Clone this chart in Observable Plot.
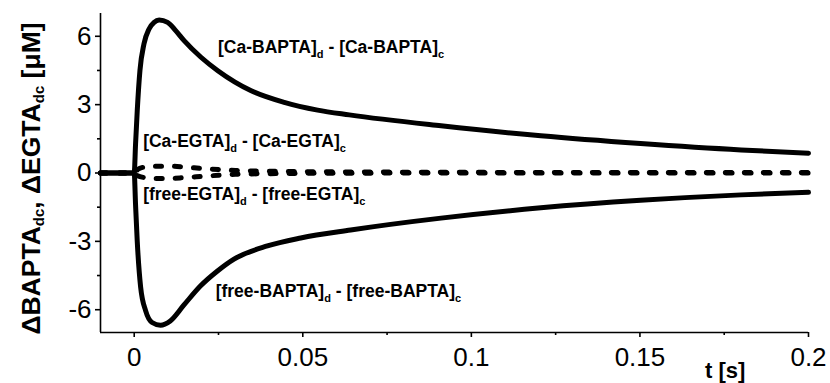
<!DOCTYPE html>
<html><head><meta charset="utf-8">
<script src="https://cdn.jsdelivr.net/npm/d3@7"></script>
<script src="https://cdn.jsdelivr.net/npm/@observablehq/plot@0.6"></script>
<style>body{margin:0;background:#fff} svg text{white-space:pre}</style>
</head><body><div id="chart"></div>
<script>
// ---- data ----
const tCaBAPTA = [-0.01, 0, 0.0004, 0.0009, 0.0017, 0.0029, 0.0044, 0.0059, 0.0074, 0.0099, 0.0123, 0.0148, 0.0198, 0.0248, 0.0347, 0.0445, 0.0544, 0.0638, 0.091, 0.1206, 0.1502, 0.18, 0.2];
const caBAPTA  = [0, 0, 1.28, 2.74, 4.5, 5.67, 6.32, 6.61, 6.71, 6.61, 6.25, 5.81, 5.08, 4.49, 3.61, 3.1, 2.76, 2.55, 2.07, 1.63, 1.29, 1.01, 0.87];

const tFreeBAPTA = [-0.01, 0, 0.0004, 0.0009, 0.0019, 0.0034, 0.0053, 0.0078, 0.0107, 0.0147, 0.0197, 0.0247, 0.0296, 0.0395, 0.0494, 0.0642, 0.091, 0.1206, 0.1502, 0.18, 0.2];
const freeBAPTA  = [0, 0, -1.4, -3.0, -5.0, -6.05, -6.56, -6.68, -6.49, -5.8, -4.95, -4.3, -3.78, -3.2, -2.85, -2.5, -1.98, -1.53, -1.2, -0.96, -0.85];

const tEGTA    = [-0.01, 0, 0.001, 0.003, 0.006, 0.01, 0.015, 0.02, 0.025, 0.03, 0.04, 0.06, 0.1, 0.15, 0.2];
const caEGTA   = [0, 0, 0.15, 0.26, 0.3, 0.3, 0.26, 0.2, 0.15, 0.11, 0.08, 0.05, 0.03, 0.02, 0.02];
const freeEGTA = [0, 0, -0.12, -0.2, -0.24, -0.24, -0.2, -0.15, -0.1, -0.06, -0.03, -0.01, 0, 0, 0];

const xTicks = [0, 0.05, 0.1, 0.15, 0.2];
const xMinorTicks = [0.025, 0.075, 0.125, 0.175];
const yTicks = [-6, -3, 0, 3, 6];
const yMinorTicks = [-4.5, -1.5, 1.5, 4.5];
const xDomain = [-0.01, 0.2];
const yDomain = [-7, 7];

const rows = (t, v, name) => t.map((x, i) => ({t: x, v: v[i], series: name}));

const solid = {x: "t", y: "v", stroke: "black", strokeWidth: 5, curve: "monotone-x", strokeLinejoin: "round"};
const dashed = {...solid, strokeDasharray: "6,13", strokeLinecap: "round"};

const plot = Plot.plot({
  width: 830, height: 383,
  marginLeft: 100, marginRight: 22, marginTop: 13, marginBottom: 51,
  style: {fontFamily: "'Liberation Sans', Arial, sans-serif", background: "white", color: "black", overflow: "visible"},
  x: {domain: xDomain, axis: null},
  y: {domain: yDomain, axis: null},
  marks: [
    Plot.ruleX([xDomain[0]], {strokeWidth: 1.6}),
    Plot.ruleY([yDomain[0]], {strokeWidth: 1.6}),
    Plot.axisX({ticks: xTicks, tickSize: 5, tickPadding: 10, fontSize: 26, tickFormat: d => String(d), label: null, strokeWidth: 1.6}),
    Plot.axisX({ticks: xMinorTicks, tickSize: 3, tickFormat: () => "", label: null, strokeWidth: 1.6}),
    Plot.axisY({ticks: yTicks, tickSize: 5, tickPadding: 4, fontSize: 26, tickFormat: d => String(d), label: null, strokeWidth: 1.6}),
    Plot.axisY({ticks: yMinorTicks, tickSize: 3, tickFormat: () => "", label: null, strokeWidth: 1.6}),
    Plot.line(rows(tEGTA, caEGTA, "Ca-EGTA"), dashed),
    Plot.line(rows(tEGTA, freeEGTA, "free-EGTA"), dashed),
    Plot.line(rows(tCaBAPTA, caBAPTA, "Ca-BAPTA"), solid),
    Plot.line(rows(tFreeBAPTA, freeBAPTA, "free-BAPTA"), solid)
  ]
});
document.getElementById("chart").appendChild(plot);

// ---- annotations with subscripts ----
const sx = plot.scale("x"), sy = plot.scale("y");
const svg = d3.select(plot);
const ann = svg.append("g").attr("font-family", "'Liberation Sans', Arial, sans-serif").attr("font-weight", "bold").attr("fill", "black");

function subLabel(g, name, t, v) {
  const txt = g.append("text").attr("x", sx.apply(t)).attr("y", sy.apply(v)).attr("font-size", 17.5).attr("text-anchor", "start");
  txt.append("tspan").text(`[${name}]`);
  txt.append("tspan").attr("font-size", 11).attr("dy", 5).text("d");
  txt.append("tspan").attr("dy", -5).text(` - [${name}]`);
  txt.append("tspan").attr("font-size", 11).attr("dy", 5).text("c");
}
subLabel(ann, "Ca-BAPTA", 0.025, 5.26);
subLabel(ann, "Ca-EGTA", 0.0028, 1.1);
subLabel(ann, "free-EGTA", 0.0028, -1.21);
subLabel(ann, "free-BAPTA", 0.0243, -5.48);

// y axis title
const yt = ann.append("text").attr("transform", `translate(39.5,${(sy.range[0] + sy.range[1]) / 2 + 6}) rotate(-90)`)
  .attr("text-anchor", "middle").attr("font-size", 26.5);
yt.append("tspan").text("ΔBAPTA");
yt.append("tspan").attr("font-size", 15).attr("dy", 4).text("dc");
yt.append("tspan").attr("dy", -4).text(", ΔEGTA");
yt.append("tspan").attr("font-size", 15).attr("dy", 4).text("dc");
yt.append("tspan").attr("dy", -4).text(" [μM]");

// x axis title
ann.append("text").attr("x", 705).attr("y", 377.5).attr("font-size", 22).attr("text-anchor", "start").text("t [s]");
</script>
</body></html>
